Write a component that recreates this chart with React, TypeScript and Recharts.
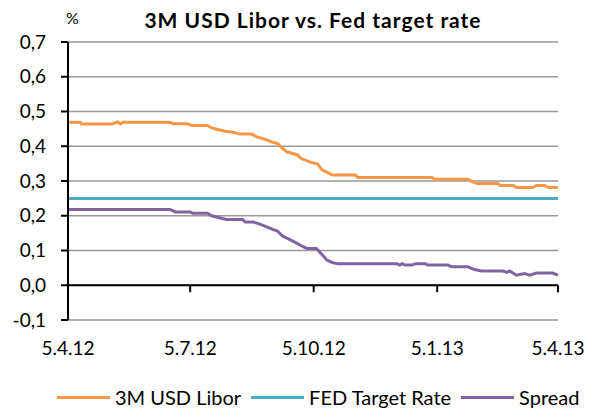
import React from "react"
import { LineChart, Line, XAxis, YAxis, CartesianGrid, ReferenceLine, Legend } from "recharts"

// days counted from 5.4.12
const xTickDays = [0, 91, 183, 275, 365]
const xTickLabels = ["5.4.12", "5.7.12", "5.10.12", "5.1.13", "5.4.13"]
const yTicks = [-0.1, 0, 0.1, 0.2, 0.3, 0.4, 0.5, 0.6, 0.7]

const liborDays = [0, 9, 10, 33, 37, 39, 41, 76, 78, 89, 92, 104, 107, 111, 117, 123, 128, 137, 141, 147, 152, 156, 159, 163, 171, 173, 180, 186, 189, 193, 197, 214, 216, 271, 273, 298, 301, 305, 320, 322, 332, 334, 346, 349, 355, 358, 365]
const liborRates = [0.469, 0.469, 0.464, 0.464, 0.47, 0.464, 0.469, 0.469, 0.465, 0.465, 0.46, 0.46, 0.453, 0.449, 0.443, 0.44, 0.435, 0.435, 0.426, 0.42, 0.412, 0.408, 0.397, 0.384, 0.375, 0.366, 0.355, 0.349, 0.333, 0.325, 0.317, 0.317, 0.31, 0.31, 0.305, 0.305, 0.298, 0.293, 0.293, 0.287, 0.287, 0.281, 0.281, 0.287, 0.287, 0.281, 0.281]

const fedDays = [0, 365]
const fedRates = [0.25, 0.25]

const spreadDays = [0, 76, 80, 91, 93, 104, 107, 112, 118, 130, 132, 138, 143, 148, 153, 156, 160, 165, 171, 173, 178, 185, 189, 193, 197, 201, 245, 247, 249, 251, 256, 259, 266, 268, 283, 286, 298, 302, 308, 324, 327, 329, 334, 340, 344, 349, 361, 365]
const spreadRates = [0.218, 0.218, 0.211, 0.211, 0.207, 0.207, 0.2, 0.195, 0.189, 0.189, 0.182, 0.182, 0.176, 0.168, 0.16, 0.156, 0.141, 0.132, 0.12, 0.115, 0.106, 0.106, 0.089, 0.072, 0.065, 0.062, 0.062, 0.058, 0.062, 0.058, 0.058, 0.062, 0.062, 0.058, 0.058, 0.053, 0.053, 0.046, 0.041, 0.041, 0.037, 0.041, 0.029, 0.034, 0.029, 0.035, 0.035, 0.029]

const toPoints = (days: number[], rates: number[]) => days.map((d, i) => ({ day: d, value: rates[i] }))

const liborData = toPoints(liborDays, liborRates)
const fedData = toPoints(fedDays, fedRates)
const spreadData = toPoints(spreadDays, spreadRates)

const font = "Lato, 'Open Sans', sans-serif"

function LegendContent(props: any) {
  const items = props.payload || []
  return (
    <div style={{ display: "flex", alignItems: "center", height: 24, paddingLeft: 57, fontFamily: font, fontSize: 20, color: "#000" }}>
      {items.map((it: any) => (
        <div key={it.value} style={{ display: "flex", alignItems: "center", marginRight: 10 }}>
          <span style={{ display: "inline-block", width: 53, height: 3, background: it.color, marginRight: 5 }} />
          <span style={{ whiteSpace: "nowrap" }}>{it.value}</span>
        </div>
      ))}
    </div>
  )
}

export default function App() {
  return (
    <div style={{ position: "absolute", left: 0, top: 0, width: 589, height: 409, background: "#fff", fontFamily: font }}>
      <div style={{ position: "absolute", left: 68, top: 9, width: 490, textAlign: "center", fontSize: 21, lineHeight: 1, fontWeight: 700, letterSpacing: 1 }}>
        3M USD Libor vs. Fed target rate
      </div>
      <div style={{ position: "absolute", left: 66, top: 10, fontSize: 16, lineHeight: 1 }}>%</div>
      <LineChart width={589} height={409} margin={{ top: 42, right: 31, left: 8, bottom: 0 }}>
        <CartesianGrid vertical={false} stroke="#999999" strokeWidth={1.5} />
        <XAxis
          type="number"
          dataKey="day"
          domain={[0, 365]}
          ticks={xTickDays}
          tickFormatter={(v: number) => xTickLabels[xTickDays.indexOf(v)]}
          axisLine={false}
          tickLine={false}
          tickSize={0}
          tickMargin={22}
          height={65}
          tick={{ fill: "#000", fontSize: 19 }}
          interval={0}
        />
        <YAxis
          domain={[-0.1, 0.7]}
          ticks={yTicks}
          tickFormatter={(v: number) => v.toFixed(1).replace(".", ",")}
          width={60}
          axisLine={{ stroke: "#000", strokeWidth: 2 }}
          tickLine={{ stroke: "#000", strokeWidth: 2 }}
          tickSize={7}
          tickMargin={15}
          tick={{ fill: "#000", fontSize: 19 }}
          interval={0}
        />
        <ReferenceLine y={0} stroke="#000" strokeWidth={2} />
        {xTickDays.map((d) => (
          <ReferenceLine
            key={d}
            segment={[
              { x: d, y: 0 },
              { x: d, y: -0.02 },
            ]}
            stroke="#000"
            strokeWidth={2}
          />
        ))}
        <Legend verticalAlign="bottom" content={<LegendContent />} wrapperStyle={{ bottom: 0, left: 0, width: 589 }} />
        <Line data={liborData} dataKey="value" name="3M USD Libor" stroke="#F79646" strokeWidth={3} dot={false} type="linear" isAnimationActive={false} />
        <Line data={fedData} dataKey="value" name="FED Target Rate" stroke="#4BACC6" strokeWidth={3} dot={false} type="linear" isAnimationActive={false} />
        <Line data={spreadData} dataKey="value" name="Spread" stroke="#8064A2" strokeWidth={3} dot={false} type="linear" isAnimationActive={false} />
      </LineChart>
    </div>
  )
}
